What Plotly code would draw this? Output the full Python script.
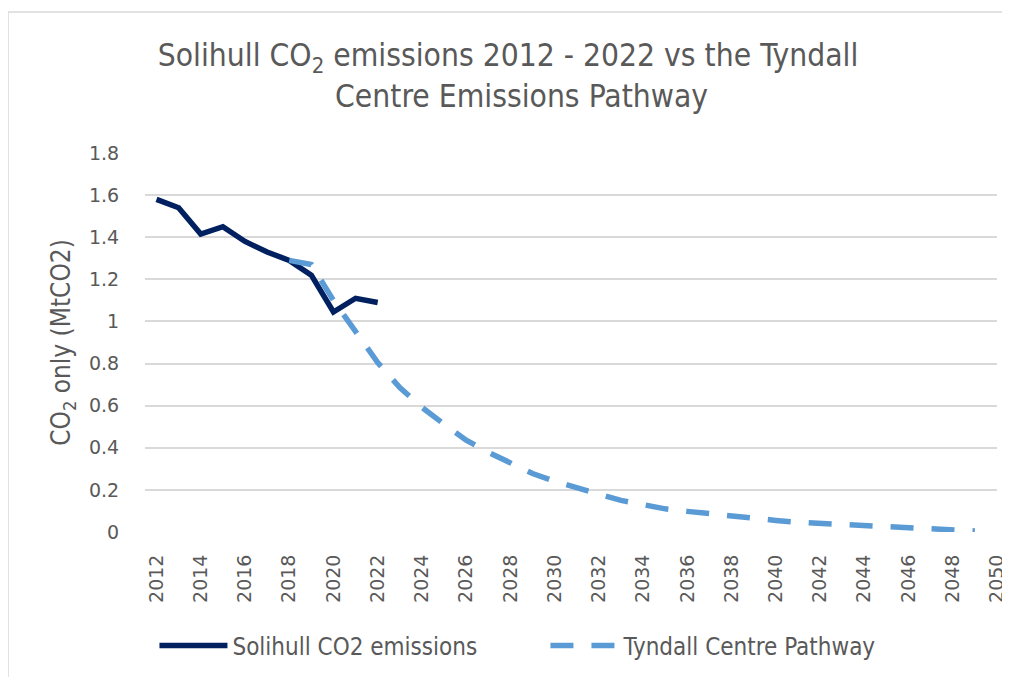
import plotly.graph_objects as go

# ---- data ----
solihull_years = list(range(2012, 2023))
solihull_values = [1.58, 1.54, 1.415, 1.45, 1.38, 1.33, 1.29, 1.22, 1.045, 1.11, 1.09]

tyndall_years = list(range(2018, 2050))
tyndall_values = [1.29, 1.27, 1.10, 0.95, 0.805, 0.686, 0.592, 0.512, 0.436, 0.379,
                  0.328, 0.278, 0.241, 0.211, 0.179, 0.150, 0.130, 0.110, 0.098, 0.086,
                  0.074, 0.065, 0.055, 0.046, 0.041, 0.034, 0.031, 0.024, 0.020, 0.018,
                  0.014, 0.005]

x_ticks = list(range(2012, 2051, 2))
y_ticks = [0, 0.2, 0.4, 0.6, 0.8, 1, 1.2, 1.4, 1.6, 1.8]

FONT = "DejaVu Sans, Verdana, sans-serif"
COND = "DejaVu Sans Condensed, DejaVu Sans, sans-serif"
GREY = "#595959"

fig = go.Figure()
fig.add_trace(go.Scatter(
    x=solihull_years, y=solihull_values, mode="lines",
    name="Solihull CO2 emissions",
    line=dict(color="#002060", width=5.5),
))
fig.add_trace(go.Scatter(
    x=tyndall_years, y=tyndall_values, mode="lines",
    name="Tyndall Centre Pathway",
    line=dict(color="#5B9BD5", width=5.5, dash="23px,18px"),
))

fig.update_layout(
    width=1010, height=677,
    paper_bgcolor="white", plot_bgcolor="white",
    margin=dict(l=137, r=21, t=145, b=153, autoexpand=False),
    title=dict(
        text="Solihull CO<sub>2</sub> emissions 2012 - 2022 vs the Tyndall&nbsp;&nbsp;&nbsp;<br>Centre Emissions Pathway",
        font=dict(family=COND, size=31.5, color=GREY),
        x=0.5085, xanchor="center", xref="container",
        y=0.9143, yanchor="top", yref="container",
    ),
    font=dict(family=FONT, size=19, color=GREY),
    showlegend=True,
    legend=dict(
        orientation="h", xref="container", yref="container",
        x=0.145, xanchor="left", y=0.0578, yanchor="middle",
        font=dict(family=COND, size=24, color=GREY),
        entrywidth=308, entrywidthmode="pixels",
        itemwidth=68,
    ),
)

fig.update_xaxes(
    range=[2011.48, 2050], tickmode="array", tickvals=x_ticks,
    ticktext=[str(v) for v in x_ticks], tickangle=-90,
    showgrid=False, zeroline=False, showline=False, automargin=False,
    ticks="outside", ticklen=14, tickcolor="rgba(0,0,0,0)",
    tickfont=dict(family=FONT, size=19, color=GREY),
)
fig.update_yaxes(
    range=[0, 1.8], tickmode="array", tickvals=y_ticks,
    ticktext=[f"{v:g}" for v in y_ticks],
    showgrid=True, gridcolor="#D9D9D9", gridwidth=1.5,
    zeroline=False, showline=False, automargin=False,
    ticks="outside", ticklen=21, tickcolor="rgba(0,0,0,0)",
    tickfont=dict(family=FONT, size=19, color=GREY),
    title=dict(text="CO<sub>2</sub> only (MtCO2)", font=dict(family=COND, size=26, color=GREY), standoff=10),
)

# chart-area border (visible on left and top edges)
fig.add_shape(type="rect", xref="paper", yref="paper",
              x0=-0.1608, x1=1.05, y0=-0.5, y1=1.372,
              line=dict(color="#D9D9D9", width=1.5), layer="below")

fig.write_html("out.html")
